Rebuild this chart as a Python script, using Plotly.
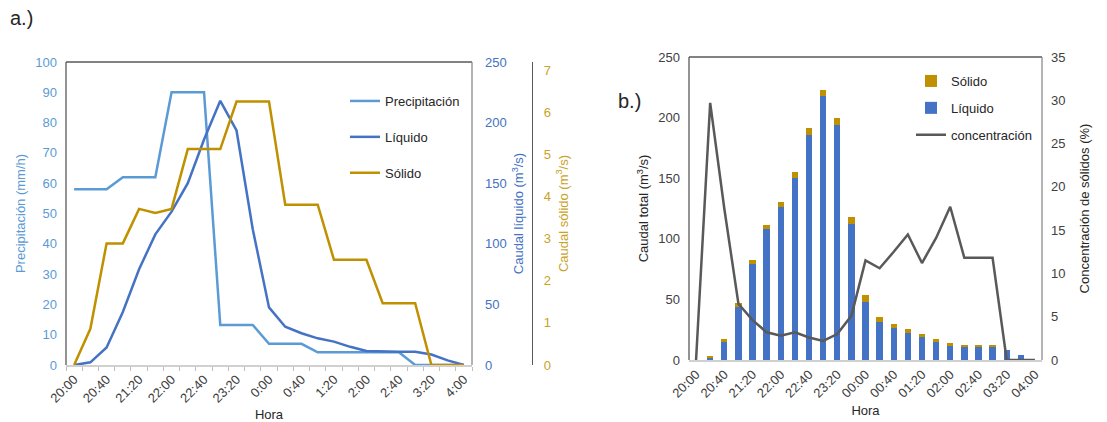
import plotly.graph_objects as go

# ---------------- data ----------------
hours = ["20:00", "20:20", "20:40", "21:00", "21:20", "21:40", "22:00", "22:20", "22:40",
         "23:00", "23:20", "23:40", "00:00", "00:20", "00:40", "01:00", "01:20", "01:40",
         "02:00", "02:20", "02:40", "03:00", "03:20", "03:40", "04:00"]
ticks_a = ["20:00", "20:40", "21:20", "22:00", "22:40", "23:20", "0:00", "0:40", "1:20",
           "2:00", "2:40", "3:20", "4:00"]
ticks_b = ["20:00", "20:40", "21:20", "22:00", "22:40", "23:20", "00:00", "00:40", "01:20",
           "02:00", "02:40", "03:20", "04:00"]

precipitacion = [58, 58, 58, 62, 62, 62, 90, 90, 90, 13.2, 13.2, 13.2, 7, 7, 7,
                 4.2, 4.2, 4.2, 4.2, 4.2, 4.2, 0, 0, 0, 0]
liquido = [0, 2.2, 14.5, 43.8, 79, 107.8, 126.5, 150, 186, 218, 193.5, 112, 47.5,
           31.6, 26.2, 22, 19.3, 15, 11.6, 11, 11, 11, 8.6, 3.8, 0]
solido = [0, 0.86, 2.89, 2.89, 3.71, 3.61, 3.71, 5.13, 5.13, 5.13, 6.26, 6.26, 6.26,
          3.81, 3.81, 3.81, 2.5, 2.5, 2.5, 1.47, 1.47, 1.47, 0, 0, 0]
concentracion = [0, 29.7, 17.5, 6.5, 4.6, 3.2, 2.8, 3.2, 2.6, 2.2, 3.0, 5.1, 11.5,
                 10.6, 12.5, 14.5, 11.2, 14.1, 17.7, 11.8, 11.8, 11.8, 0, 0, 0]

# ---------------- style ----------------
C_PRE = "#5B9BD5"
C_LIQ = "#4472C4"
C_SOL = "#BF9000"
C_SOL_TXT = "#C9A227"
C_CON = "#595959"
FONT = "Arial, Liberation Sans, sans-serif"
W, H = 1107, 422

def px_x(v):
    return v / W

def px_y(v):
    return 1 - v / H

text_a = [ticks_a[i // 2] if i % 2 == 0 else "" for i in range(len(hours))]
text_b = [ticks_b[i // 2] if i % 2 == 0 else "" for i in range(len(hours))]

fig = go.Figure()

# ---- chart a ----
fig.add_trace(go.Scatter(x=hours, y=precipitacion, name="Precipitación", mode="lines",
                         line=dict(color=C_PRE, width=2.5), xaxis="x", yaxis="y",
                         legend="legend", legendgroup="a1"))
fig.add_trace(go.Scatter(x=hours, y=liquido, name="Líquido", mode="lines",
                         line=dict(color=C_LIQ, width=2.5), xaxis="x", yaxis="y2",
                         legend="legend", legendgroup="a2"))
fig.add_trace(go.Scatter(x=hours, y=solido, name="Sólido", mode="lines",
                         line=dict(color=C_SOL, width=2.5), xaxis="x", yaxis="y3",
                         legend="legend", legendgroup="a3"))

# ---- chart b ----
fig.add_trace(go.Bar(x=hours, y=liquido, name="Líquido", marker=dict(color=C_LIQ, line=dict(width=0)),
                     xaxis="x2", yaxis="y4", legend="legend2", legendgroup="b2", legendrank=2))
fig.add_trace(go.Bar(x=hours, y=solido, name="Sólido", marker=dict(color=C_SOL, line=dict(width=0)),
                     xaxis="x2", yaxis="y4", legend="legend2", legendgroup="b1", legendrank=1))
fig.add_trace(go.Scatter(x=hours, y=concentracion, name="concentración", mode="lines",
                         line=dict(color=C_CON, width=2.5), xaxis="x2", yaxis="y5",
                         legend="legend2", legendgroup="b3", legendrank=3))

A_L, A_R, A_T, A_B = 66, 472, 62, 365
B_L, B_R, B_T, B_B = 689, 1042, 57, 360

tickfont = dict(family=FONT, size=13, color="#404040")

fig.update_layout(
    width=W, height=H,
    margin=dict(l=0, r=0, t=0, b=0, autoexpand=False),
    paper_bgcolor="white", plot_bgcolor="white",
    font=dict(family=FONT, size=13, color="#262626"),
    barmode="stack", bargap=0.55,
    hovermode=False,
    xaxis=dict(domain=[px_x(A_L), px_x(A_R)], anchor="y", type="category", automargin=False,
               range=[-0.5, 24.5], tickvals=hours, ticktext=text_a, tickangle=-45,
               ticks="outside", tickson="boundaries", ticklen=4, tickcolor="#BFBFBF",
               showline=True, linecolor="#D0D0D0", linewidth=1.5, showgrid=False,
               tickfont=tickfont,
               title=dict(text="Hora", font=dict(family=FONT, size=13, color="#262626"), standoff=7)),
    yaxis=dict(domain=[px_y(A_B), px_y(A_T)], anchor="x", range=[0, 100], dtick=10, automargin=False,
               showgrid=False, zeroline=False, showline=False, ticks="",
               ticklabelstandoff=8,
               tickfont=dict(family=FONT, size=13, color=C_PRE),
               title=dict(text="Precipitación (mm/h)", font=dict(family=FONT, size=13, color=C_PRE), standoff=6)),
    yaxis2=dict(overlaying="y", anchor="x", side="right", range=[0, 250], dtick=50, automargin=False,
                showgrid=False, zeroline=False, showline=False, ticks="",
                ticklabelstandoff=12,
                tickfont=dict(family=FONT, size=13, color=C_LIQ),
                title=dict(text="Caudal líquido (m<sup>3</sup>/s)", font=dict(family=FONT, size=13, color=C_LIQ), standoff=8)),
    yaxis3=dict(overlaying="y", anchor="free", position=px_x(532), side="right", automargin=False,
                range=[0, 7.2], dtick=1, showgrid=False, zeroline=False,
                showline=True, linecolor="#595959", linewidth=1.3, ticks="",
                ticklabelstandoff=8,
                tickfont=dict(family=FONT, size=13, color=C_SOL_TXT),
                title=dict(text="Caudal sólido (m<sup>3</sup>/s)", font=dict(family=FONT, size=13, color=C_SOL_TXT), standoff=8)),
    xaxis2=dict(domain=[px_x(B_L), px_x(B_R)], anchor="y4", type="category", automargin=False,
                range=[-0.5, 24.5], tickvals=hours, ticktext=text_b, tickangle=-45,
                ticks="", showline=True, linecolor="#D0D0D0", linewidth=1.5, showgrid=False,
                tickfont=tickfont,
                title=dict(text="Hora", font=dict(family=FONT, size=13, color="#262626"), standoff=6)),
    yaxis4=dict(domain=[px_y(B_B), px_y(B_T)], anchor="x2", range=[0, 250], dtick=50, automargin=False,
                showgrid=False, zeroline=False, showline=False, ticks="",
                ticklabelstandoff=8, tickfont=tickfont,
                title=dict(text="Caudal total (m<sup>3</sup>/s)", font=dict(family=FONT, size=13, color="#262626"), standoff=6)),
    yaxis5=dict(overlaying="y4", anchor="x2", side="right", range=[0, 35], dtick=5, automargin=False,
                showgrid=False, zeroline=False, showline=False, ticks="",
                ticklabelstandoff=8, tickfont=tickfont,
                title=dict(text="Concentración de sólidos (%)", font=dict(family=FONT, size=13, color="#262626"), standoff=15)),
    legend=dict(x=px_x(345), y=px_y(86), xanchor="left", yanchor="top",
                bgcolor="rgba(0,0,0,0)", font=dict(family=FONT, size=13, color="#262626"),
                itemwidth=30, tracegroupgap=16, traceorder="grouped"),
    legend2=dict(x=px_x(911), y=px_y(66), xanchor="left", yanchor="top",
                 bgcolor="rgba(0,0,0,0)", font=dict(family=FONT, size=13, color="#262626"),
                 itemwidth=30, tracegroupgap=7, traceorder="grouped"),
    showlegend=True,
)

# plot frames (left, top, right borders)
shapes = []
for (l, r, t, b) in [(A_L, A_R, A_T, A_B), (B_L, B_R, B_T, B_B)]:
    shapes.append(dict(type="line", xref="paper", yref="paper", x0=px_x(l), x1=px_x(l),
                       y0=px_y(b), y1=px_y(t), line=dict(color="#595959", width=1.3)))
    shapes.append(dict(type="line", xref="paper", yref="paper", x0=px_x(l), x1=px_x(r),
                       y0=px_y(t), y1=px_y(t), line=dict(color="#595959", width=1.3)))
    shapes.append(dict(type="line", xref="paper", yref="paper", x0=px_x(r), x1=px_x(r),
                       y0=px_y(b), y1=px_y(t), line=dict(color="#8C8C8C", width=1.3)))
fig.update_layout(shapes=shapes)

fig.add_annotation(text="a.)", x=px_x(8), y=px_y(18), xref="paper", yref="paper",
                   xanchor="left", yanchor="middle", showarrow=False,
                   font=dict(family=FONT, size=20, color="#262626"))
fig.add_annotation(text="b.)", x=px_x(616), y=px_y(101), xref="paper", yref="paper",
                   xanchor="left", yanchor="middle", showarrow=False,
                   font=dict(family=FONT, size=20, color="#262626"))

fig.write_html("out.html", config={"displayModeBar": False},
               post_script="document.body.style.margin='0';")
